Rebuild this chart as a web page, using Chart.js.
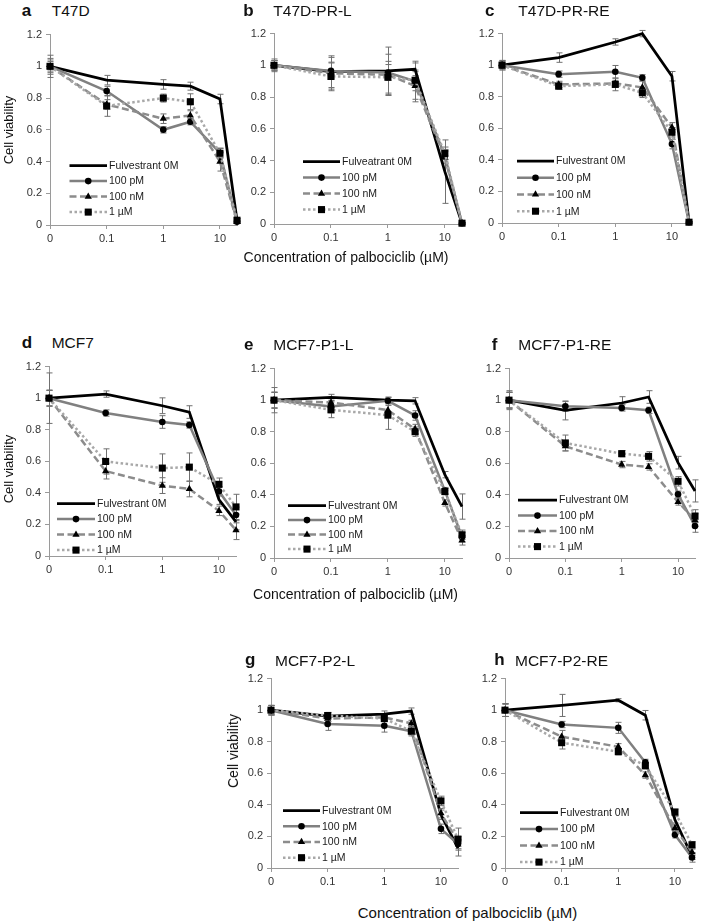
<!DOCTYPE html>
<html><head><meta charset="utf-8">
<script src="https://cdn.jsdelivr.net/npm/chart.js@4.4.1/dist/chart.umd.min.js"></script>
<style>
html,body{margin:0;padding:0;background:#fff;}
#page{position:relative;width:709px;height:921px;overflow:hidden;font-family:"Liberation Sans",Arial,sans-serif;color:#111;}
#page canvas{position:absolute;}
.t{position:absolute;line-height:1;white-space:nowrap;}
</style></head><body><div id="page"></div>
<script>
// ---------- data ----------
const CONCENTRATIONS = [0, 0.1, 1, 3, 10, 20];          // palbociclib, µM
const X_TICKS = [0, 0.1, 1, 10];
const X_TICK_LABELS = ['0', '0.1', '1', '10'];
const Y_TICKS = [0, 0.2, 0.4, 0.6, 0.8, 1, 1.2];
const Y_TICK_LABELS = ['0', '0.2', '0.4', '0.6', '0.8', '1', '1.2'];
const SERIES_LABELS = ['Fulvestrant 0M', '100 pM', '100 nM', '1 µM'];
const SERIES_LABELS_B = ['Fulveatrant 0M', '100 pM', '100 nM', '1 µM'];
const PANEL_LETTERS = ['a', 'b', 'c', 'd', 'e', 'f', 'g', 'h'];
const CELL_LINES = ['T47D', 'T47D-PR-L', 'T47D-PR-RE', 'MCF7', 'MCF7-P1-L', 'MCF7-P1-RE', 'MCF7-P2-L', 'MCF7-P2-RE'];
const X_TITLE = 'Concentration of palbociclib (µM)';
const Y_TITLE = 'Cell viability';
const ZERO_POSITION = 0.01; // the "0" concentration is shown one decade below 0.1

// series order in each panel: Fulvestrant 0M, 100 pM, 100 nM, 1 µM
const VAL_T47D = [
  [1.00, 0.913, 0.886, 0.875, 0.794, 0.03],
  [1.00, 0.844, 0.600, 0.651, 0.455, 0.02],
  [1.00, 0.760, 0.670, 0.690, 0.400, 0.02],
  [1.00, 0.750, 0.800, 0.777, 0.452, 0.03]];
const ERR_T47D = [
  [0.07, 0.03, 0.03, 0.025, 0.03, 0.01],
  [0.05, 0.03, 0.02, 0.02, 0.03, 0.01],
  [0.04, 0.03, 0.03, 0.03, 0.06, 0.01],
  [0.03, 0.065, 0.025, 0.05, 0.03, 0.01]];

const VAL_T47D_PR_L = [
  [1.00, 0.960, 0.965, 0.975, 0.330, 0.005],
  [1.00, 0.965, 0.955, 0.900, 0.430, 0.005],
  [1.00, 0.950, 0.940, 0.870, 0.420, 0.005],
  [1.00, 0.930, 0.925, 0.906, 0.445, 0.005]];
const ERR_T47D_PR_L = [
  [0.04, 0.10, 0.15, 0.04, 0.20, 0.005],
  [0.03, 0.05, 0.05, 0.06, 0.04, 0.005],
  [0.03, 0.10, 0.13, 0.10, 0.04, 0.005],
  [0.03, 0.09, 0.10, 0.12, 0.04, 0.005]];

const VAL_T47D_PR_RE = [
  [1.00, 1.048, 1.147, 1.200, 0.930, 0.005],
  [1.00, 0.943, 0.958, 0.920, 0.500, 0.005],
  [1.00, 0.878, 0.884, 0.859, 0.606, 0.005],
  [1.00, 0.867, 0.878, 0.825, 0.575, 0.005]];
const ERR_T47D_PR_RE = [
  [0.03, 0.03, 0.02, 0.02, 0.03, 0.005],
  [0.03, 0.02, 0.04, 0.02, 0.03, 0.005],
  [0.02, 0.02, 0.02, 0.04, 0.03, 0.005],
  [0.02, 0.02, 0.04, 0.03, 0.03, 0.005]];

const VAL_MCF7 = [
  [1.00, 1.026, 0.952, 0.912, 0.357, 0.216],
  [1.00, 0.906, 0.849, 0.830, 0.410, 0.260],
  [1.00, 0.538, 0.446, 0.425, 0.286, 0.164],
  [1.00, 0.599, 0.557, 0.563, 0.454, 0.311]];
const ERR_MCF7 = [
  [0.05, 0.02, 0.05, 0.04, 0.03, 0.05],
  [0.05, 0.02, 0.04, 0.02, 0.03, 0.05],
  [0.16, 0.05, 0.05, 0.05, 0.03, 0.06],
  [0.05, 0.08, 0.09, 0.09, 0.04, 0.08]];

const VAL_MCF7_P1_L = [
  [1.00, 1.017, 1.000, 0.996, 0.528, 0.326],
  [1.00, 0.960, 0.996, 0.903, 0.427, 0.133],
  [1.00, 0.985, 0.937, 0.817, 0.349, 0.112],
  [1.00, 0.939, 0.905, 0.800, 0.421, 0.147]];
const ERR_MCF7_P1_L = [
  [0.08, 0.02, 0.02, 0.02, 0.02, 0.08],
  [0.05, 0.04, 0.02, 0.03, 0.02, 0.03],
  [0.05, 0.03, 0.03, 0.03, 0.02, 0.03],
  [0.05, 0.05, 0.09, 0.03, 0.02, 0.03]];

const VAL_MCF7_P1_RE = [
  [1.00, 0.935, 0.982, 1.020, 0.604, 0.425],
  [1.00, 0.961, 0.951, 0.936, 0.404, 0.203],
  [1.00, 0.708, 0.592, 0.577, 0.355, 0.240],
  [1.00, 0.729, 0.661, 0.644, 0.486, 0.266]];
const ERR_MCF7_P1_RE = [
  [0.06, 0.06, 0.04, 0.04, 0.04, 0.07],
  [0.05, 0.03, 0.02, 0.02, 0.02, 0.04],
  [0.05, 0.03, 0.02, 0.02, 0.02, 0.04],
  [0.05, 0.05, 0.02, 0.03, 0.03, 0.04]];

const VAL_MCF7_P2_L = [
  [1.00, 0.962, 0.975, 0.994, 0.337, 0.126],
  [1.00, 0.912, 0.901, 0.867, 0.248, 0.152],
  [1.00, 0.947, 0.954, 0.916, 0.347, 0.168],
  [1.00, 0.966, 0.947, 0.867, 0.425, 0.183]];
const ERR_MCF7_P2_L = [
  [0.03, 0.02, 0.02, 0.02, 0.03, 0.05],
  [0.03, 0.04, 0.04, 0.02, 0.03, 0.03],
  [0.03, 0.02, 0.02, 0.02, 0.03, 0.03],
  [0.03, 0.02, 0.02, 0.03, 0.03, 0.07]];

const VAL_MCF7_P2_RE = [
  [1.00, 1.030, 1.063, 0.968, 0.305, 0.074],
  [1.00, 0.909, 0.888, 0.669, 0.210, 0.067],
  [1.00, 0.832, 0.768, 0.589, 0.253, 0.100],
  [1.00, 0.794, 0.737, 0.648, 0.354, 0.147]];
const ERR_MCF7_P2_RE = [
  [0.04, 0.07, 0.01, 0.03, 0.02, 0.02],
  [0.04, 0.02, 0.035, 0.02, 0.02, 0.03],
  [0.04, 0.04, 0.02, 0.02, 0.02, 0.02],
  [0.04, 0.04, 0.02, 0.02, 0.02, 0.02]];

const PANEL_VALUES = [VAL_T47D, VAL_T47D_PR_L, VAL_T47D_PR_RE, VAL_MCF7, VAL_MCF7_P1_L, VAL_MCF7_P1_RE, VAL_MCF7_P2_L, VAL_MCF7_P2_RE];
const PANEL_ERRORS = [ERR_T47D, ERR_T47D_PR_L, ERR_T47D_PR_RE, ERR_MCF7, ERR_MCF7_P1_L, ERR_MCF7_P1_RE, ERR_MCF7_P2_L, ERR_MCF7_P2_RE];

// ---------- layout & style ----------
// plot area (page px): L,T,R,B ; legend: dx,dy from plot top-left, row gap, sample length
const LAYOUT = [
  {L:50,  T:34,  R:237, B:225, lg:[19.5,131,15.5,37.5], title:[21.7,51.7,16]},
  {L:274, T:33,  R:462, B:224, lg:[29,128,16,37],       title:[243.3,273.3,16]},
  {L:502, T:33,  R:689, B:223, lg:[15,127.5,16.7,37],   title:[485,518.3,16]},
  {L:49,  T:366, R:236, B:556, lg:[8,137,15.5,38],      title:[21.7,51.7,348.3]},
  {L:274, T:368, R:462, B:558, lg:[14,137,14.5,38],     title:[244,273.3,350]},
  {L:509, T:368, R:695, B:558, lg:[9,131.5,15.5,39],    title:[491.7,518.3,350]},
  {L:271, T:678, R:458, B:868, lg:[12,132,15.7,37],     title:[245,275,665.7]},
  {L:505, T:678, R:692, B:868, lg:[15,134,16.5,38],     title:[494.3,515,665.7]}
];
const STYLES = [
  {color:'#000000', width:2.75, dash:[],        point:false,      r:0},
  {color:'#808080', width:2.5,  dash:[],        point:'circle',   r:3.3},
  {color:'#8c8c8c', width:2.5,  dash:[7,3.5],   point:'triangle', r:4.2},
  {color:'#a8a8a8', width:2.5,  dash:[2.5,2.5], point:'rect',     r:5}
];
const FONT = '"Liberation Sans", Arial, sans-serif';
const Y_BOX = 44, X_BOX = 26, PAD_T = 10, PAD_R = 10;

const page = document.getElementById('page');
function addText(txt, left, baseline, size, weight) {
  const d = document.createElement('div');
  d.className = 't';
  d.textContent = txt;
  d.style.left = left + 'px';
  d.style.top = (baseline - 0.8465 * size) + 'px';
  d.style.fontSize = size + 'px';
  if (weight) d.style.fontWeight = weight;
  page.appendChild(d);
  return d;
}
function addCentered(txt, cx, baseline, size) {
  const d = addText(txt, 0, baseline, size);
  d.style.left = cx + 'px';
  d.style.transform = 'translateX(-50%)';
}
function addRotated(txt, cx, cy, size) {
  const d = document.createElement('div');
  d.className = 't';
  d.textContent = txt;
  d.style.fontSize = size + 'px';
  d.style.left = cx + 'px';
  d.style.top = cy + 'px';
  d.style.transform = 'translate(-50%,-50%) rotate(-90deg)';
  page.appendChild(d);
}

function drawMarker(ctx, style, x, y) {
  const r = style.r;
  ctx.beginPath();
  if (style.point === 'circle') {
    ctx.arc(x, y, r, 0, Math.PI * 2);
  } else if (style.point === 'triangle') {
    for (let k = 0; k < 3; k++) {
      const a = k * 2 * Math.PI / 3;
      const px = x + Math.sin(a) * r, py = y - Math.cos(a) * r;
      k ? ctx.lineTo(px, py) : ctx.moveTo(px, py);
    }
    ctx.closePath();
  } else if (style.point === 'rect') {
    const s = r * Math.SQRT1_2;
    ctx.rect(x - s, y - s, 2 * s, 2 * s);
  }
  ctx.fill();
}

const errorBarPlugin = {
  id: 'errorBars',
  beforeDatasetsDraw(chart) {
    const ctx = chart.ctx, ys = chart.scales.y;
    ctx.save();
    ctx.strokeStyle = '#707070';
    ctx.lineWidth = 1;
    ctx.setLineDash([]);
    chart.data.datasets.forEach((ds, i) => {
      const meta = chart.getDatasetMeta(i);
      meta.data.forEach((pt, j) => {
        const e = ds.errors[j];
        if (!e) return;
        const v = ds.data[j].y;
        const x = Math.round(pt.x) + 0.5;
        const y1 = ys.getPixelForValue(v + e), y2 = ys.getPixelForValue(v - e);
        ctx.beginPath();
        ctx.moveTo(x, y1); ctx.lineTo(x, y2);
        ctx.moveTo(x - 3, y1); ctx.lineTo(x + 3, y1);
        ctx.moveTo(x - 3, y2); ctx.lineTo(x + 3, y2);
        ctx.stroke();
      });
    });
    ctx.restore();
  }
};

const legendPlugin = {
  id: 'inLegend',
  afterDatasetsDraw(chart, args, opts) {
    const ctx = chart.ctx, ca = chart.chartArea;
    const [dx, dy, gap, len] = opts.lg;
    ctx.save();
    opts.labels.forEach((lab, i) => {
      const st = STYLES[i];
      const x0 = ca.left + dx, y = ca.top + dy + i * gap;
      ctx.strokeStyle = st.color;
      ctx.lineWidth = st.width;
      ctx.setLineDash(st.dash);
      ctx.beginPath();
      ctx.moveTo(x0, y); ctx.lineTo(x0 + len, y);
      ctx.stroke();
      ctx.setLineDash([]);
      if (st.point) { ctx.fillStyle = '#000'; drawMarker(ctx, st, x0 + len / 2, y); }
      ctx.fillStyle = '#1a1a1a';
      ctx.font = '10.5px ' + FONT;
      ctx.textBaseline = 'middle';
      ctx.textAlign = 'left';
      ctx.fillText(lab, x0 + len + 2, y + 0.5);
    });
    ctx.restore();
  }
};

function buildPanel(p) {
  const lay = LAYOUT[p];
  const cv = document.createElement('canvas');
  const w = (lay.R - lay.L) + Y_BOX + PAD_R, h = (lay.B - lay.T) + PAD_T + X_BOX;
  cv.width = w; cv.height = h;
  cv.style.left = (lay.L - Y_BOX) + 'px';
  cv.style.top = (lay.T - PAD_T) + 'px';
  cv.style.width = w + 'px'; cv.style.height = h + 'px';
  page.appendChild(cv);

  const vals = PANEL_VALUES[p], errs = PANEL_ERRORS[p];
  const datasets = SERIES_LABELS.map((lab, s) => ({
    label: lab,
    data: CONCENTRATIONS.map((c, k) => ({x: c === 0 ? ZERO_POSITION : c, y: vals[s][k]})),
    errors: errs[s],
    borderColor: STYLES[s].color,
    borderWidth: STYLES[s].width,
    borderDash: STYLES[s].dash,
    pointStyle: STYLES[s].point,
    pointRadius: STYLES[s].r,
    pointBackgroundColor: '#000',
    pointBorderColor: '#000',
    pointBorderWidth: 0,
    tension: 0,
    fill: false,
    clip: false,
    order: 3 - s
  }));

  new Chart(cv, {
    type: 'line',
    data: {datasets},
    plugins: [errorBarPlugin, legendPlugin],
    options: {
      responsive: false, animation: false, devicePixelRatio: 1,
      layout: {padding: {top: PAD_T, right: PAD_R, left: 0, bottom: 0}},
      plugins: {
        legend: {display: false}, tooltip: {enabled: false}, title: {display: false},
        inLegend: {lg: lay.lg, labels: p === 1 ? SERIES_LABELS_B : SERIES_LABELS}
      },
      scales: {
        x: {
          type: 'logarithmic', min: ZERO_POSITION, max: CONCENTRATIONS[CONCENTRATIONS.length - 1],
          afterBuildTicks: sc => { sc.ticks = X_TICKS.map(v => ({value: v === 0 ? ZERO_POSITION : v})); },
          afterFit: sc => { sc.height = X_BOX; },
          ticks: {
            autoSkip: false, maxRotation: 0, padding: 3, color: '#333',
            font: {family: FONT, size: 11},
            callback: (v, i) => X_TICK_LABELS[i]
          },
          grid: {display: true, drawOnChartArea: false, drawTicks: true, tickLength: 4, color: '#9a9a9a'},
          border: {display: true, color: '#9a9a9a', width: 1}
        },
        y: {
          type: 'linear', min: 0, max: 1.2,
          afterBuildTicks: sc => { sc.ticks = Y_TICKS.map(v => ({value: v})); },
          afterFit: sc => { sc.width = Y_BOX; },
          ticks: {
            autoSkip: false, padding: 4, color: '#333',
            font: {family: FONT, size: 11},
            callback: (v, i) => Y_TICK_LABELS[i]
          },
          grid: {display: true, drawOnChartArea: false, drawTicks: true, tickLength: 4, color: '#9a9a9a'},
          border: {display: true, color: '#9a9a9a', width: 1}
        }
      }
    }
  });

  // panel heading
  addText(PANEL_LETTERS[p], lay.title[0], lay.title[2], 17, 'bold');
  addText(CELL_LINES[p], lay.title[1], lay.title[2], 15.5);
}

for (let p = 0; p < 8; p++) buildPanel(p);

// axis titles
addRotated(Y_TITLE, 8, 130, 13);
addRotated(Y_TITLE, 8, 469, 13);
addRotated(Y_TITLE, 232.5, 750.5, 14);
addCentered(X_TITLE, 346, 262, 14);
addCentered(X_TITLE, 355.5, 598.5, 14);
addCentered(X_TITLE, 467.5, 917.5, 15);
</script>
</body></html>
